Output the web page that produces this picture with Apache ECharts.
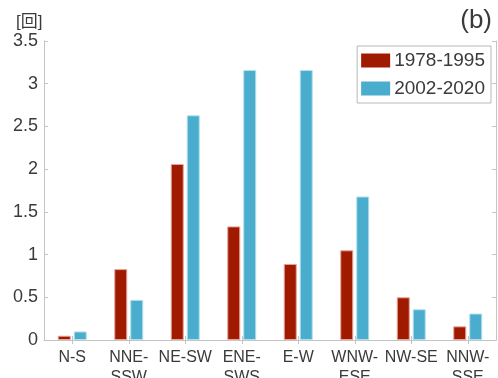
<!DOCTYPE html>
<html>
<head>
<meta charset="utf-8">
<style>html,body{margin:0;padding:0;background:#fff;}#c{width:498px;height:378px;}</style>
<script src="https://cdn.jsdelivr.net/npm/echarts@6/dist/echarts.min.js"></script>
</head>
<body>
<div id="c"></div>
<script>
var categories = ['N-S', 'NNE-\nSSW', 'NE-SW', 'ENE-\nSWS', 'E-W', 'WNW-\nESE', 'NW-SE', 'NNW-\nSSE'];
var series1Name = '1978-1995';
var series2Name = '2002-2020';
var series1 = [0.05, 0.83, 2.06, 1.33, 0.89, 1.05, 0.50, 0.16];
var series2 = [0.10, 0.47, 2.63, 3.16, 3.16, 1.68, 0.36, 0.31];
var yTicks = [0, 0.5, 1, 1.5, 2, 2.5, 3, 3.5];

var FONT = '"Liberation Sans", "Noto Sans CJK JP", sans-serif';
var TXT = '#3a3a3a';
var AX = '#c4c4c4';

var chart = echarts.init(document.getElementById('c'), null, {renderer: 'canvas'});
chart.setOption({
  animation: false,
  textStyle: {fontFamily: FONT},
  grid: {left: 44, right: 2, top: 41, bottom: 38, containLabel: false, outerBoundsMode: 'none'},
  title: [
    {text: '(b)', right: 1, top: 3, textStyle: {fontSize: 26, fontWeight: 'normal', color: TXT, fontFamily: FONT}},
    {text: '[回]', left: 11, top: 9, textStyle: {fontSize: 17, fontWeight: 'normal', color: TXT, fontFamily: FONT}}
  ],
  legend: {
    right: 7, top: 46,
    orient: 'vertical',
    icon: 'rect',
    itemWidth: 29, itemHeight: 14, itemGap: 9,
    padding: [5, 6, 5, 4],
    borderColor: '#b8b8b8', borderWidth: 1, borderRadius: 0,
    backgroundColor: '#fff',
    itemStyle: {borderWidth: 0},
    textStyle: {fontSize: 19, color: TXT, fontFamily: FONT, padding: [0, 0, 0, -1]},
    data: [series1Name, series2Name]
  },
  xAxis: [
    {
      type: 'category', data: categories, position: 'bottom',
      axisLine: {lineStyle: {color: AX, width: 1}},
      axisTick: {show: true, inside: true, alignWithLabel: true, length: 4, lineStyle: {color: AX}},
      axisLabel: {fontSize: 16, color: TXT, margin: 8, lineHeight: 20, interval: 0, fontFamily: FONT}
    },
    {
      type: 'category', data: categories, position: 'top',
      axisLine: {show: true, lineStyle: {color: AX, width: 1}},
      axisTick: {show: true, inside: true, alignWithLabel: true, length: 4, lineStyle: {color: AX}},
      axisLabel: {show: false}
    }
  ],
  yAxis: [
    {
      type: 'value', min: 0, max: 3.5, interval: 0.5, position: 'left',
      axisLine: {show: true, lineStyle: {color: AX, width: 1}},
      axisTick: {show: true, inside: true, length: 4, lineStyle: {color: AX}},
      splitLine: {show: false},
      axisLabel: {fontSize: 18, color: TXT, margin: 6, fontFamily: FONT,
        formatter: function (v) { return yTicks.indexOf(v) >= 0 ? String(v) : ''; }}
    },
    {
      type: 'value', min: 0, max: 3.5, interval: 0.5, position: 'right',
      axisLine: {show: true, lineStyle: {color: AX, width: 1}},
      axisTick: {show: true, inside: true, length: 4, lineStyle: {color: AX}},
      splitLine: {show: false},
      axisLabel: {show: false}
    }
  ],
  series: [
    {
      name: series1Name, type: 'bar', data: series1, barWidth: 13, barGap: '23%',
      itemStyle: {color: '#a01a00', borderColor: '#e6a49a', borderWidth: 1}
    },
    {
      name: series2Name, type: 'bar', data: series2, barWidth: 13,
      itemStyle: {color: '#4aadcd', borderColor: '#b4e0ee', borderWidth: 1}
    }
  ]
});
</script>
</body>
</html>
